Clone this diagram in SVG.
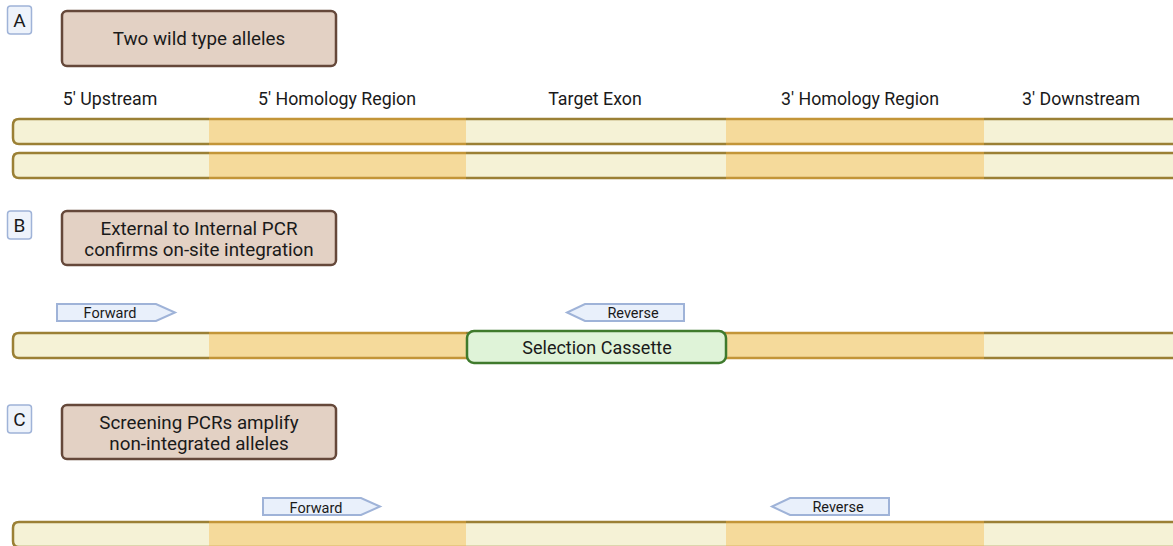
<svg xmlns="http://www.w3.org/2000/svg" width="1173" height="546" viewBox="0 0 1173 546">
<style>
text{font-family:Roboto,"Liberation Sans",sans-serif;fill:#1a1a1a;text-anchor:middle}
.pl{fill:#eef3fb;stroke:#9fb3d8;stroke-width:1.5}
.plt{font-size:19px}
.tb{fill:#e3d1c4;stroke:#65483a;stroke-width:2.5}
.tt{font-size:18.8px}
.lab{font-size:17.8px}
.cs{font-size:18px}
.lt{fill:#f5f2d6}
.or{fill:#f5da9b}
.edL{stroke:#9b8035;stroke-width:2.5}
.edO{stroke:#c39538;stroke-width:2.5}
.pr{fill:#e9f0fb;stroke:#9fb3d8;stroke-width:2}
.prt{font-size:14.5px}
.cas{fill:#dff3d8;stroke:#3f7a2c;stroke-width:2.5}
</style>
<defs>
<g id="bar">
<path class="lt" d="M13,0 H209 V25 H13 Z"/>
<rect class="or" x="209" y="0" width="257" height="25"/>
<rect class="lt" x="466" y="0" width="260" height="25"/>
<rect class="or" x="726" y="0" width="258" height="25"/>
<rect class="lt" x="984" y="0" width="200" height="25"/>
<path class="edL" fill="none" d="M209,0 H19 Q13,0 13,6 V19 Q13,25 19,25 H209"/>
<path class="edO" d="M209,0 H466 M209,25 H466 M726,0 H984 M726,25 H984"/>
<path class="edL" d="M466,0 H726 M466,25 H726 M984,0 H1180 M984,25 H1180"/>
</g>
</defs>

<g id="panelA">
<rect class="pl" x="7.5" y="6" width="24" height="28" rx="3"/>
<text class="plt" x="19.5" y="27">A</text>
<rect class="tb" x="62" y="11" width="274" height="55" rx="5"/>
<text class="tt" x="199" y="44.5">Two wild type alleles</text>
<text class="lab" x="110" y="104.5">5' Upstream</text>
<text class="lab" x="337" y="104.5">5' Homology Region</text>
<text class="lab" x="595" y="104.5">Target Exon</text>
<text class="lab" x="860" y="104.5">3' Homology Region</text>
<text class="lab" x="1081" y="104.5">3' Downstream</text>
</g>
<g id="alleleA1"><use href="#bar" x="0" y="119"/></g>
<g id="alleleA2"><use href="#bar" x="0" y="153"/></g>

<g id="panelB">
<rect class="pl" x="7.5" y="211" width="24" height="28" rx="3"/>
<text class="plt" x="19.5" y="232">B</text>
<rect class="tb" x="62" y="211" width="274" height="54" rx="5"/>
<text class="tt" x="199" y="234.5">External to Internal PCR</text>
<text class="tt" x="199" y="255.5">confirms on-site integration</text>
</g>
<g id="alleleB"><use href="#bar" x="0" y="333"/></g>
<g id="cassette">
<rect class="cas" x="467" y="331" width="259" height="32" rx="7"/>
<text class="cs" x="597" y="353.5">Selection Cassette</text>
</g>
<g id="forwardB">
<path class="pr" d="M57,304 H156 L175,312.5 L156,321 H57 Z"/>
<text class="prt" x="110" y="318">Forward</text>
</g>
<g id="reverseB">
<path class="pr" d="M684,304 H585 L567,312.5 L585,321 H684 Z"/>
<text class="prt" x="633" y="317.5">Reverse</text>
</g>

<g id="panelC">
<rect class="pl" x="7.5" y="405" width="24" height="28" rx="3"/>
<text class="plt" x="19.5" y="426">C</text>
<rect class="tb" x="62" y="405" width="274" height="54" rx="5"/>
<text class="tt" x="199" y="428.5">Screening PCRs amplify</text>
<text class="tt" x="199" y="449.5">non-integrated alleles</text>
</g>
<g id="alleleC"><use href="#bar" x="0" y="522"/></g>
<g id="forwardC">
<path class="pr" d="M263,498 H361 L380,506.5 L361,515 H263 Z"/>
<text class="prt" x="316" y="513">Forward</text>
</g>
<g id="reverseC">
<path class="pr" d="M889,498 H790 L772,506.5 L790,515 H889 Z"/>
<text class="prt" x="838" y="512">Reverse</text>
</g>
</svg>
